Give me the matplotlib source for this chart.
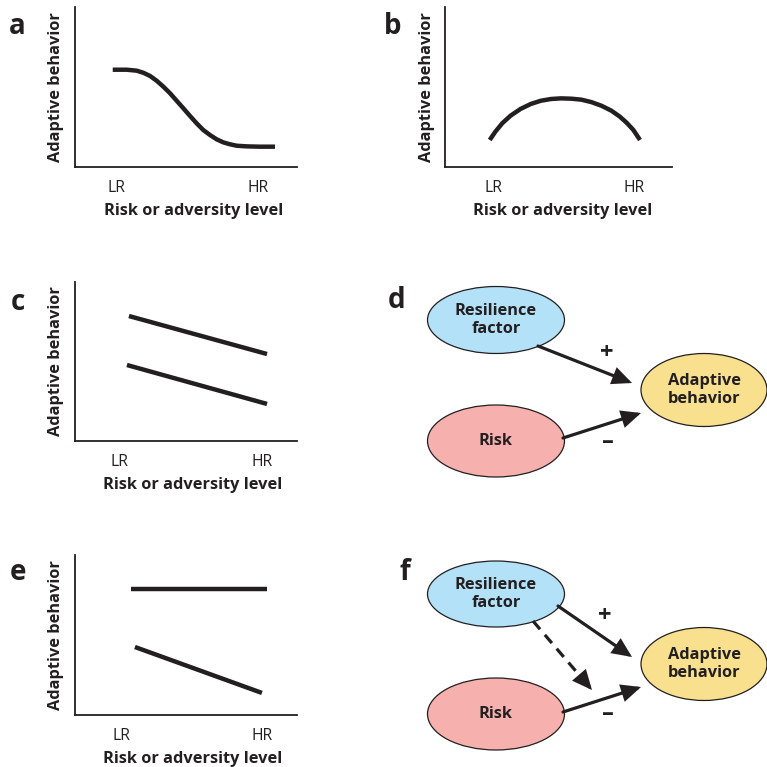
import matplotlib
matplotlib.use("Agg")
import matplotlib.pyplot as plt
from matplotlib.patches import Ellipse, FancyArrowPatch

plt.rcParams['font.family'] = ['Open Sans', 'DejaVu Sans']

INK = '#231f20'
W = H = 767

# ---------------- data ----------------
tick_labels = ['LR', 'HR']
x_label = 'Risk or adversity level'
y_label = 'Adaptive behavior'

# panel a: sigmoid-like decline (0-100 scale)
a_x = [17.0, 23.3, 27.8, 30.8, 33.8, 36.8, 39.8, 42.8, 45.8, 48.8, 51.8,
       54.8, 57.8, 60.8, 63.8, 66.8, 69.8, 72.8, 77.3, 83.3, 90.1]
a_y = [60.8, 60.8, 60.2, 58.9, 56.9, 53.9, 50.2, 46.1, 41.4, 36.7, 31.9,
       27.3, 23.1, 20.0, 17.3, 15.4, 14.2, 13.3, 12.9, 12.7, 12.7]
a_ticks = [18.5, 82.4]

# panel b: inverted U
b_x = [19.7, 22.2, 25.2, 28.9, 33.3, 37.8, 42.2, 46.7, 51.1, 55.6, 60.0,
       64.4, 68.9, 73.3, 77.0, 80.0, 83.0, 85.9]
b_y = [16.9, 22.1, 27.3, 32.1, 36.3, 39.4, 41.4, 42.5, 42.9, 42.7, 42.1,
       40.6, 38.3, 35.2, 31.5, 27.7, 23.1, 16.9]
b_ticks = [21.3, 83.3]

# panel c: two parallel declining lines
c_x = [24.3, 86.5]
c_top = [78.6, 54.7]
c_x2 = [23.4, 86.5]
c_bottom = [47.8, 23.3]
c_ticks = [19.8, 84.2]

# panel e: flat line and declining line
e_x = [25.2, 86.5]
e_top = [78.8, 78.8]
e_x2 = [27.0, 84.2]
e_bottom = [42.5, 13.8]
e_ticks = [20.7, 84.2]

# diagrams d and f (pixel layout of the schematic)
node_labels = ['Resilience\nfactor', 'Risk', 'Adaptive\nbehavior']
node_colors = ['#b2e1f8', '#f6b0ae', '#f8e08e']
d_nodes = [(496, 320, 137, 67), (496, 441, 137, 72), (704, 390, 126, 73)]
f_nodes = [(496, 594, 137, 66), (496, 714, 137, 72), (704, 664, 126, 73)]
d_arrows = [((538, 346), (632, 383)), ((563, 438), (641, 413))]
f_arrows = [((558, 606), (632, 657)), ((563, 712), (641, 687))]
f_dashed = ((533, 621), (592, 690))
d_signs = [('+', 607, 353), ('\u2013', 608, 442)]
f_signs = [('+', 605, 616), ('\u2013', 608, 714)]

panel_letters = [('a', 17, 27), ('b', 393, 27), ('c', 18, 302),
                 ('d', 397, 300), ('e', 18, 573), ('f', 405, 572)]

# ---------------- figure ----------------
fig = plt.figure(figsize=(7.67, 7.67), dpi=100)


def make_axes(left, right, top, bottom):
    return fig.add_axes([left / W, 1 - bottom / H, (right - left) / W, (bottom - top) / H])


def style(ax, ticks, left, right, bottom, top, xlab_cx, ylab_x):
    ax.set_xlim(0, 100)
    ax.set_ylim(0, 100)
    for s in ['top', 'right']:
        ax.spines[s].set_visible(False)
    for s in ['left', 'bottom']:
        ax.spines[s].set_linewidth(1.3)
        ax.spines[s].set_color(INK)
    ax.set_yticks([])
    ax.set_xticks(ticks)
    ax.set_xticklabels(tick_labels, fontsize=11.3, color=INK)
    ax.tick_params(axis='x', length=0, pad=9)
    ax.set_xlabel(x_label, fontsize=11.8, fontweight='bold', color=INK)
    ax.set_ylabel(y_label, fontsize=11.8, fontweight='bold', color=INK)
    wpx, hpx = right - left, bottom - top
    ax.xaxis.label.set_va('center')
    ax.xaxis.set_label_coords((xlab_cx - left) / wpx, -44 / hpx)
    ax.yaxis.label.set_va('center')
    ax.yaxis.set_label_coords((ylab_x - left) / wpx, 0.5)


lw = 3.2
ax_a = make_axes(75, 297, 7, 167)
ax_a.plot(a_x, a_y, color=INK, lw=lw, solid_capstyle='butt', solid_joinstyle='round')
style(ax_a, a_ticks, 75, 297, 167, 7, 194, 56)

ax_b = make_axes(445, 672, 7, 167)
ax_b.plot(b_x, b_y, color=INK, lw=lw, solid_capstyle='butt', solid_joinstyle='round')
style(ax_b, b_ticks, 445, 672, 167, 7, 563, 427)

ax_c = make_axes(75, 297, 282, 441)
ax_c.plot(c_x, c_top, color=INK, lw=lw, solid_capstyle='butt')
ax_c.plot(c_x2, c_bottom, color=INK, lw=lw, solid_capstyle='butt')
style(ax_c, c_ticks, 75, 297, 441, 282, 193, 56)

ax_e = make_axes(75, 297, 555, 715)
ax_e.plot(e_x, e_top, color=INK, lw=lw, solid_capstyle='butt')
ax_e.plot(e_x2, e_bottom, color=INK, lw=lw, solid_capstyle='butt')
style(ax_e, e_ticks, 75, 297, 715, 555, 193, 56)

# overlay for diagrams and panel letters
ov = fig.add_axes([0, 0, 1, 1])
ov.set_xlim(0, W)
ov.set_ylim(H, 0)
ov.axis('off')
ov.patch.set_alpha(0)

for (t, x, y) in panel_letters:
    ov.text(x, y, t, fontsize=20, fontweight='bold', color=INK, ha='center', va='center')


def draw_nodes(nodes):
    for (cx, cy, w, h), lab, col in zip(nodes, node_labels, node_colors):
        ov.add_patch(Ellipse((cx, cy), w, h, facecolor=col, edgecolor=INK, lw=0.9))
        ov.text(cx, cy, lab, fontsize=11.8, fontweight='bold', color=INK,
                ha='center', va='center', linespacing=1.2)


def arrow(p0, p1, ls='-'):
    ov.add_patch(FancyArrowPatch(p0, p1, arrowstyle='-|>,head_length=0.75,head_width=0.34',
                                 mutation_scale=14, color=INK, lw=2.3, shrinkA=0, shrinkB=0,
                                 linestyle=ls, joinstyle='miter'))


draw_nodes(d_nodes)
for p0, p1 in d_arrows:
    arrow(p0, p1)
for s, x, y in d_signs:
    ov.text(x, y, s, fontsize=17, fontweight='bold', color=INK, ha='center', va='center')

draw_nodes(f_nodes)
for p0, p1 in f_arrows:
    arrow(p0, p1)
# dashed arrow: dashed shaft, solid head
(x0, y0), (x1, y1) = f_dashed
fr = 0.8
xm, ym = x0 + (x1 - x0) * fr, y0 + (y1 - y0) * fr
ov.plot([x0, xm], [y0, ym], color=INK, lw=2.3, dashes=(3.4, 2.3))
arrow((xm, ym), (x1, y1))
for s, x, y in f_signs:
    ov.text(x, y, s, fontsize=17, fontweight='bold', color=INK, ha='center', va='center')

fig.savefig('out.png', dpi=100)
